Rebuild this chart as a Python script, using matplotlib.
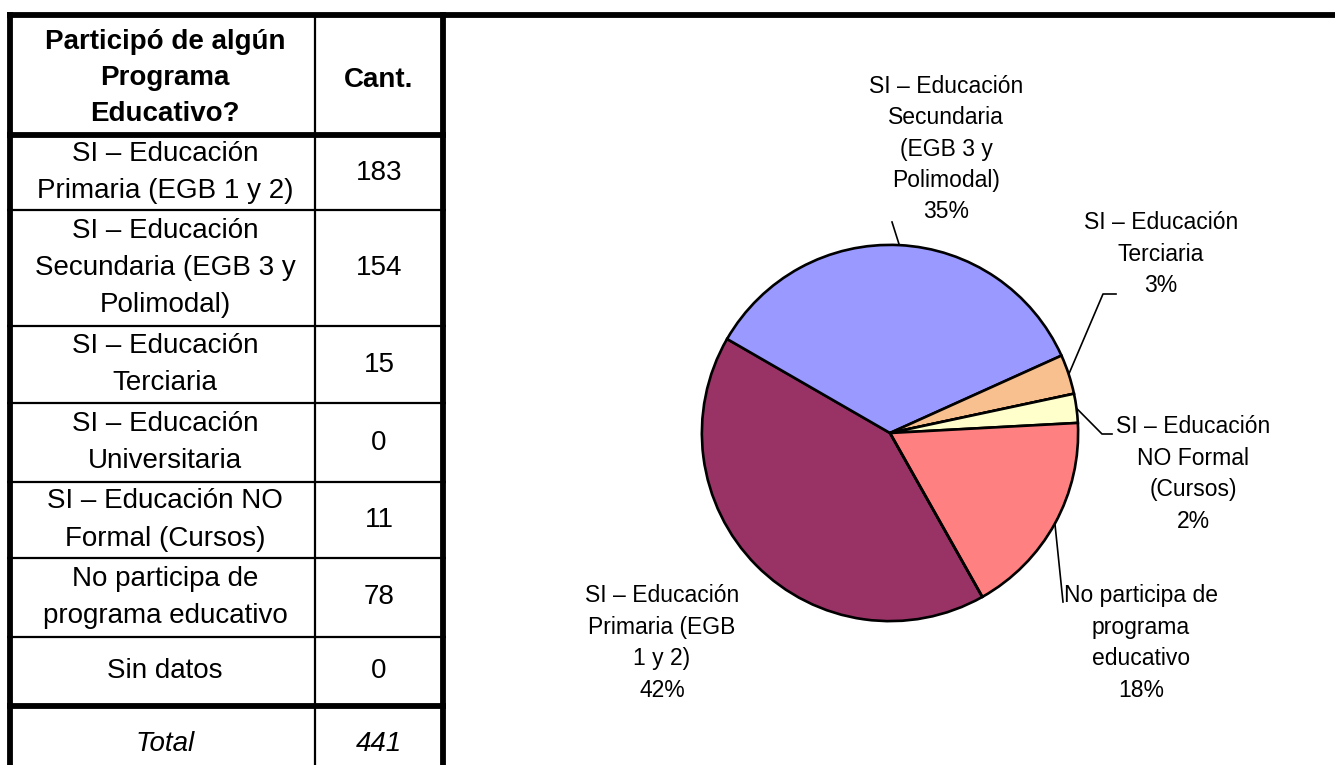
import matplotlib.pyplot as plt
import numpy as np

plt.rcParams['font.family'] = ['Liberation Sans', 'DejaVu Sans']

# Table / chart data
header_label = 'Participó de algún\nPrograma\nEducativo?'
header_count = 'Cant.'
row_labels = ['SI – Educación\nPrimaria (EGB 1 y 2)',
              'SI – Educación\nSecundaria (EGB 3 y\nPolimodal)',
              'SI – Educación\nTerciaria',
              'SI – Educación\nUniversitaria',
              'SI – Educación NO\nFormal (Cursos)',
              'No participa de\nprograma educativo',
              'Sin datos']
counts = [183, 154, 15, 0, 11, 78, 0]
total = 441

pie_names = ['SI – Educación\nPrimaria (EGB\n1 y 2)',
             'SI – Educación\nSecundaria\n(EGB 3 y\nPolimodal)',
             'SI – Educación\nTerciaria',
             'SI – Educación\nUniversitaria',
             'SI – Educación\nNO Formal\n(Cursos)',
             'No participa de\nprograma\neducativo',
             'Sin datos']
pie_pcts = [42, 35, 3, 0, 2, 18, 0]
colors = ['#993366', '#9999FF', '#F9C08F', '#FFFF99', '#FFFFCC', '#FF8080', '#CCCCCC']

fig = plt.figure(figsize=(13.35, 7.65), dpi=100)

# overlay axes in pixel coordinates for the table
ov = fig.add_axes([0, 0, 1, 1])
ov.set_xlim(0, 1335)
ov.set_ylim(765, 0)
ov.axis('off')

thick = 4.2
thin = 1.6
ov.plot([7, 1335], [14.5, 14.5], color='black', lw=thick, solid_capstyle='butt')
ov.plot([9.5, 9.5], [12, 765], color='black', lw=thick, solid_capstyle='butt')
ov.plot([443, 443], [12, 765], color='black', lw=thick, solid_capstyle='butt')
ov.plot([315, 315], [16, 765], color='black', lw=thin)

row_edges = [135, 210, 326, 403, 482, 558, 637, 706, 780]
for i, y in enumerate(row_edges[:-1]):
    lw = thick if i in (0, len(row_edges) - 2) else thin
    ov.plot([7, 446], [y, y], color='black', lw=lw, solid_capstyle='butt')

x_lab, x_cnt = 165, 379
ov.text(x_lab, 78, header_label, ha='center', va='center', fontsize=20,
        fontweight='bold', linespacing=1.5)
ov.text(x_cnt, 80, header_count, ha='center', va='center', fontsize=20,
        fontweight='bold')
for i, (lab, c) in enumerate(zip(row_labels, counts)):
    yc = (row_edges[i] + row_edges[i + 1]) / 2
    ov.text(x_lab, yc, lab, ha='center', va='center', fontsize=20, linespacing=1.55)
    ov.text(x_cnt, yc, str(c), ha='center', va='center', fontsize=20)
ov.text(x_lab, 744, 'Total', ha='center', va='center', fontsize=20, style='italic')
ov.text(x_cnt, 744, str(total), ha='center', va='center', fontsize=20, style='italic')

# pie chart
cx, cy, r = 890, 433, 190
pa = fig.add_axes([(cx - r) / 1335, (765 - cy - r) / 765, 2 * r / 1335, 2 * r / 765])
wedges, _ = pa.pie(counts, colors=colors, startangle=-60.6, counterclock=False,
                   wedgeprops=dict(edgecolor='black', linewidth=1.9))
pa.set_xlim(-1.01, 1.01)
pa.set_ylim(-1.01, 1.01)
pa.set_aspect('equal')
pa.axis('off')
r_draw = r / 1.01


def to_px(x, y):
    return cx + x * r_draw, cy - y * r_draw


# label positions (pixels) and leader-line paths
label_pos = {0: (662, 643), 1: (946, 149), 2: (1161, 254), 4: (1193, 474), 5: (1141, 643)}
leaders = {1: [(892, 222)], 2: [(1103, 294), (1116, 294)],
           4: [(1102, 434), (1112, 434)], 5: [(1063, 602)]}

for i, w in enumerate(wedges):
    if counts[i] == 0:
        continue
    px, py = label_pos[i]
    ov.text(px, py, '%s\n%d%%' % (pie_names[i], pie_pcts[i]), ha='center', va='center',
            fontsize=16.5, linespacing=1.47)
    if i in leaders:
        mid = np.deg2rad((w.theta1 + w.theta2) / 2)
        sx, sy = to_px(np.cos(mid), np.sin(mid))
        xs = [sx] + [p[0] for p in leaders[i]]
        ys = [sy] + [p[1] for p in leaders[i]]
        ov.plot(xs, ys, color='black', lw=1.2)

fig.savefig('out.png', dpi=100)
